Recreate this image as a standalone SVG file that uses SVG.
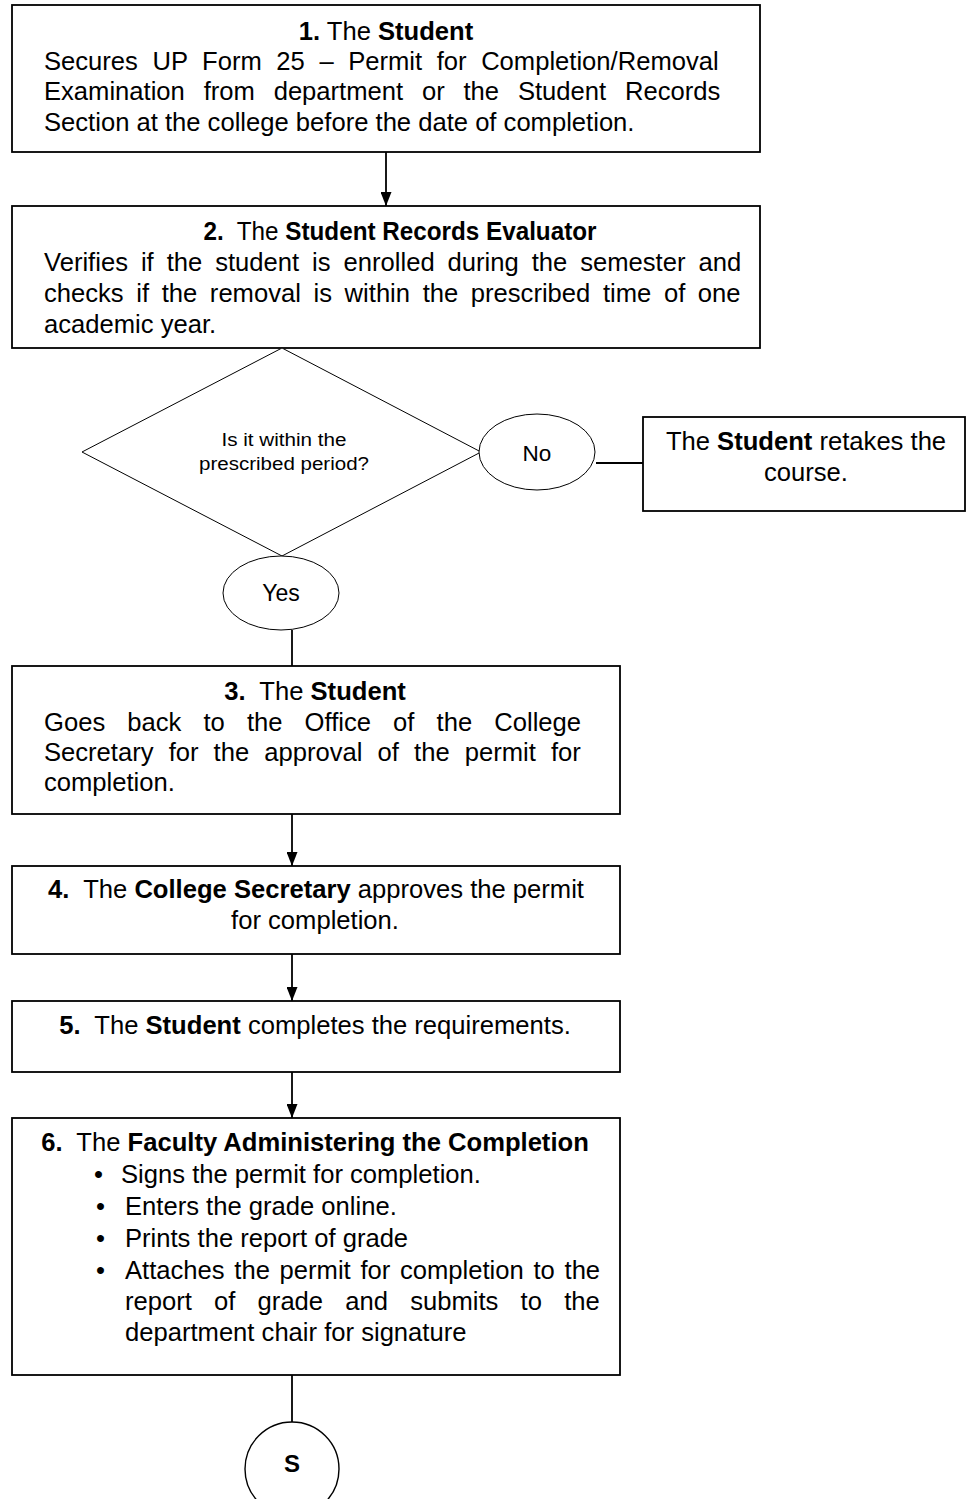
<svg xmlns="http://www.w3.org/2000/svg" width="967" height="1499" viewBox="0 0 967 1499">
<style>
.box{fill:#fff;stroke:#000;stroke-width:1.8}
.thin{fill:#fff;stroke:#000;stroke-width:1}
.t{font-family:"Liberation Sans",Arial,sans-serif;font-size:25.6px;fill:#000}
.s{font-family:"Liberation Sans",Arial,sans-serif;font-size:18px;fill:#000}
.m{text-anchor:middle}
.b{font-weight:bold}
.line{stroke:#000;stroke-width:1.8;fill:none}
</style>
<defs>
<marker id="ah" viewBox="0 0 14 11" refX="14" refY="5.5" markerWidth="14" markerHeight="11" markerUnits="userSpaceOnUse" orient="auto">
<path d="M0,0 L14,5.5 L0,11 z" fill="#000"/>
</marker>
</defs>
<rect width="967" height="1499" fill="#fff"/>
<g id="connectors">
<line class="line" x1="386" y1="152" x2="386" y2="206" marker-end="url(#ah)"/>
<line class="line" x1="596" y1="463" x2="643" y2="463"/>
<line class="line" x1="292" y1="630" x2="292" y2="673"/>
<line class="line" x1="292" y1="814" x2="292" y2="866" marker-end="url(#ah)"/>
<line class="line" x1="292" y1="954" x2="292" y2="1001" marker-end="url(#ah)"/>
<line class="line" x1="292" y1="1072" x2="292" y2="1118" marker-end="url(#ah)"/>
<line class="line" x1="292" y1="1375" x2="292" y2="1422"/>
</g>
<g id="n1">
<rect class="box" x="12" y="5" width="748" height="147"/>
<text class="t m" x="386" y="40"><tspan class="b">1.</tspan> The <tspan class="b">Student</tspan></text>
<text class="t" x="44" y="70" word-spacing="7.45">Secures UP Form 25 – Permit for Completion/Removal</text>
<text class="t" x="44" y="100" word-spacing="11.7">Examination from department or the Student Records</text>
<text class="t" x="44" y="131">Section at the college before the date of completion.</text>
</g>
<g id="n2">
<rect class="box" x="12" y="206" width="748" height="142"/>
<text class="t m" x="400" y="240" textLength="393" lengthAdjust="spacingAndGlyphs"><tspan class="b">2.</tspan>&#160; The <tspan class="b">Student Records Evaluator</tspan></text>
<text class="t" x="44" y="271" word-spacing="5.85">Verifies if the student is enrolled during the semester and</text>
<text class="t" x="44" y="302" word-spacing="5.5">checks if the removal is within the prescribed time of one</text>
<text class="t" x="44" y="333">academic year.</text>
</g>
<g id="decision">
<polygon class="thin" points="282,348 481,452 282,556 82,452"/>
<text class="s m" x="284" y="446" textLength="125" lengthAdjust="spacingAndGlyphs">Is it within the</text>
<text class="s m" x="284" y="470" textLength="170" lengthAdjust="spacingAndGlyphs">prescribed period?</text>
</g>
<g id="no">
<ellipse class="thin" cx="537" cy="452" rx="58" ry="38"/>
<text class="t m" x="537" y="461" style="font-size:22.5px">No</text>
</g>
<g id="retake">
<rect class="box" x="643" y="417" width="322" height="94"/>
<text class="t m" x="806" y="450">The <tspan class="b">Student</tspan> retakes the</text>
<text class="t m" x="806" y="481">course.</text>
</g>
<g id="yes">
<ellipse class="thin" cx="281" cy="593" rx="58" ry="37"/>
<text class="t m" x="281" y="601" style="font-size:23px">Yes</text>
</g>
<g id="n3">
<rect class="box" x="12" y="666" width="608" height="148"/>
<text class="t m" x="315" y="700"><tspan class="b">3.</tspan>&#160; The <tspan class="b">Student</tspan></text>
<text class="t" x="44" y="731" word-spacing="15">Goes back to the Office of the College</text>
<text class="t" x="44" y="761" word-spacing="8">Secretary for the approval of the permit for</text>
<text class="t" x="44" y="791">completion.</text>
</g>
<g id="n4">
<rect class="box" x="12" y="866" width="608" height="88"/>
<text class="t m" x="316" y="898"><tspan class="b">4.</tspan>&#160; The <tspan class="b">College Secretary</tspan> approves the permit</text>
<text class="t m" x="315" y="929">for completion.</text>
</g>
<g id="n5">
<rect class="box" x="12" y="1001" width="608" height="71"/>
<text class="t m" x="315" y="1034"><tspan class="b">5.</tspan>&#160; The <tspan class="b">Student</tspan> completes the requirements.</text>
</g>
<g id="n6">
<rect class="box" x="12" y="1118" width="608" height="257"/>
<text class="t m" x="315" y="1151"><tspan class="b">6.</tspan>&#160; The <tspan class="b">Faculty Administering the Completion</tspan></text>
<text class="t" x="94" y="1183">•</text>
<text class="t" x="121" y="1183">Signs the permit for completion.</text>
<text class="t" x="96" y="1215">•</text>
<text class="t" x="125" y="1215">Enters the grade online.</text>
<text class="t" x="96" y="1247">•</text>
<text class="t" x="125" y="1247">Prints the report of grade</text>
<text class="t" x="96" y="1279">•</text>
<text class="t" x="125" y="1279" word-spacing="2.6">Attaches the permit for completion to the</text>
<text class="t" x="125" y="1310" word-spacing="15.1">report of grade and submits to the</text>
<text class="t" x="125" y="1341">department chair for signature</text>
</g>
<g id="s">
<circle class="thin" cx="292" cy="1469" r="47" style="stroke-width:1.4"/>
<text class="t m b" x="292" y="1472" style="font-size:24px">S</text>
</g>
</svg>
